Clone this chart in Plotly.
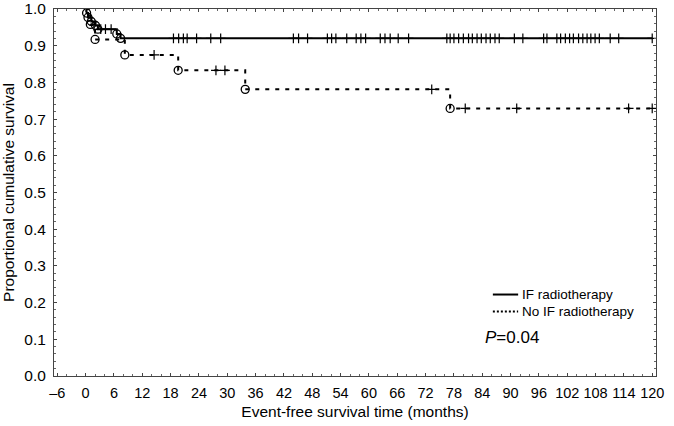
import numpy as np
import plotly.graph_objects as go

# IF radiotherapy (solid): event times and survival after each event
if_event_t = [0.0, 0.2, 0.5, 1.2, 2.1, 2.6, 6.6, 7.4]
if_event_s = [1.0, 0.989, 0.977, 0.966, 0.955, 0.945, 0.932, 0.920]
if_censor_t = [3.2, 4.2, 5.4, 18.6, 19.7, 20.7, 21.5, 23.5, 26.5, 28.6, 44.0, 45.1, 47.0,
               51.2, 52.1, 53.0, 55.3, 57.3, 58.3, 59.3, 62.4, 63.4, 64.5, 66.2, 68.4,
               76.5, 77.2, 78.0, 79.0, 80.0, 81.1, 81.9, 82.9, 83.8, 84.8, 85.7, 86.7,
               87.6, 90.8, 92.6, 97.0, 97.7, 99.8, 100.6, 101.6, 102.5, 103.3, 104.4,
               105.3, 106.2, 107.0, 107.9, 108.8, 111.1, 112.9, 120.0]

# No IF radiotherapy (dashed)
no_event_t = [0.0, 1.0, 2.0, 8.3, 19.6, 33.8, 77.2]
no_event_s = [1.0, 0.958, 0.917, 0.875, 0.833, 0.781, 0.729]
no_censor_t = [14.5, 27.6, 29.5, 73.3, 80.4, 91.3, 115.0, 120.0]

x_ticks = list(range(-6, 121, 6))
y_ticks = [round(v * 0.1, 1) for v in range(11)]
end_t = 120.0

legend_names = ['IF radiotherapy', 'No IF radiotherapy']
legend_dash = ['solid', '2px,2px']


def step_at(times, surv, t):
    i = np.searchsorted(times, t, side='right') - 1
    return np.array(surv)[i]


fig = go.Figure()

for ev_t, ev_s, cen_t, dash in [(if_event_t, if_event_s, if_censor_t, 'solid'),
                               (no_event_t, no_event_s, no_censor_t, '4px,6px')]:
    fig.add_trace(go.Scatter(x=ev_t + [end_t], y=ev_s + [ev_s[-1]], mode='lines',
                             line=dict(color='black', width=2, dash=dash, shape='hv'),
                             showlegend=False, hoverinfo='skip'))
    fig.add_trace(go.Scatter(x=ev_t[1:], y=ev_s[1:], mode='markers',
                             marker=dict(symbol='circle-open', size=8, color='black',
                                         line=dict(width=1.3)),
                             showlegend=False))
    fig.add_trace(go.Scatter(x=cen_t, y=step_at(ev_t, ev_s, cen_t), mode='markers',
                             marker=dict(symbol='cross-thin', size=7, color='black',
                                         line=dict(width=1.2, color='black')),
                             showlegend=False))

# legend drawn by hand, like the original
for i, (name, dash) in enumerate(zip(legend_names, legend_dash)):
    yy = 0.222 - i * 0.046
    fig.add_shape(type='line', xref='paper', yref='paper', x0=0.729, x1=0.771, y0=yy, y1=yy,
                  line=dict(color='black', width=2, dash=dash))
    fig.add_annotation(x=0.774, y=yy, xref='paper', yref='paper', xanchor='left', yanchor='middle',
                       text=name, showarrow=False, font=dict(size=13.5, color='black'))

fig.add_annotation(x=0.712, y=0.105, xref='paper', yref='paper', xanchor='left', yanchor='middle',
                   text='<i>P</i>=0.04', showarrow=False,
                   font=dict(size=17, color='black'))

axis_common = dict(showline=True, linecolor='#444', linewidth=1, mirror='allticks',
                   ticks='inside', ticklen=3, tickcolor='#444', showgrid=False, zeroline=False,
                   ticklabeloverflow='allow')

fig.update_xaxes(range=[-6.7, 120.8], tickvals=x_ticks,
                 ticktext=[str(v).replace('-', '–') for v in x_ticks],
                 tickfont=dict(size=14.5, color='black'), ticklabelstandoff=4,
                 title=dict(text='Event-free survival time (months)', font=dict(size=15.5, color='black'),
                            standoff=5),
                 minor=dict(ticks='inside', ticklen=2, dtick=2, tickcolor='#666'),
                 **axis_common)
fig.update_yaxes(range=[0, 1.0], tickvals=y_ticks, tickformat='.1f',
                 tickfont=dict(size=15.5, color='black'), ticklabelstandoff=4,
                 title=dict(text='Proportional cumulative survival', font=dict(size=15.5, color='black'),
                            standoff=6),
                 minor=dict(ticks='inside', ticklen=2, dtick=0.02, tickcolor='#666'),
                 **axis_common)

fig.update_layout(
    width=674, height=426,
    margin=dict(l=54, r=18, t=9, b=50, autoexpand=False),
    paper_bgcolor='white', plot_bgcolor='white',
    font=dict(family='Liberation Sans, Arial, sans-serif', color='black'),
    showlegend=False,
)

fig.write_html("out.html", config={'displayModeBar': False},
               post_script="document.body.style.margin='0';")
